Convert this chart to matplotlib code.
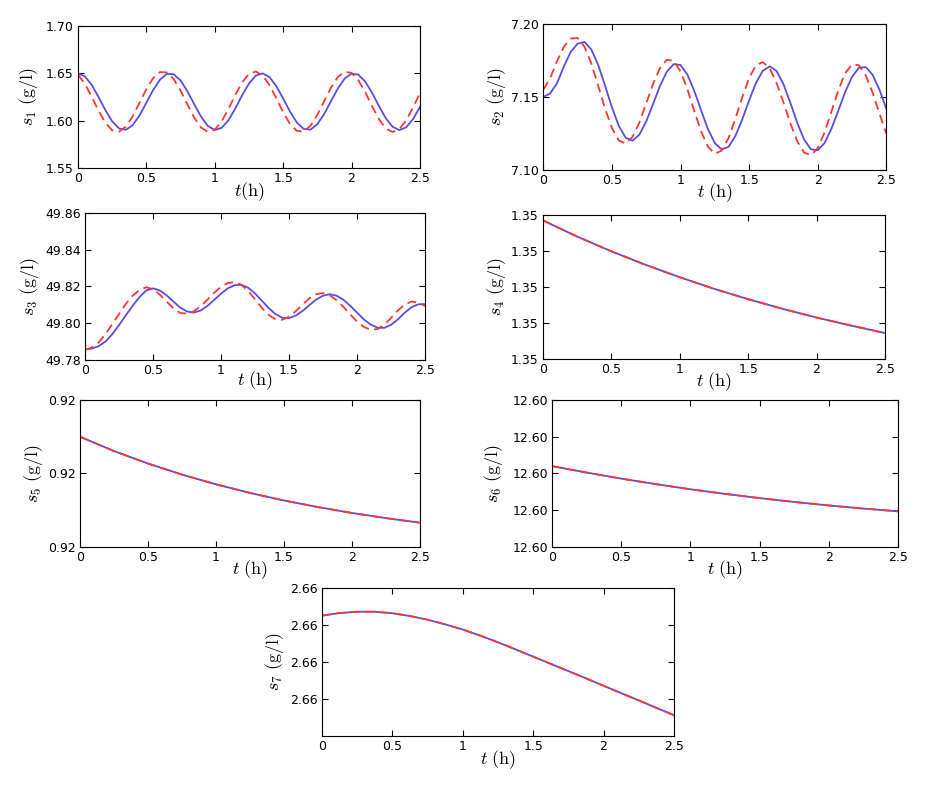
import numpy as np
import matplotlib
matplotlib.use("Agg")
import matplotlib.pyplot as plt
from matplotlib.ticker import FormatStrFormatter

plt.rcParams['font.family'] = ['DejaVu Sans']
plt.rcParams['mathtext.fontset'] = 'cm'

# ---------------- data ----------------
t_osc = np.round(np.arange(0, 2.5001, 0.05), 3)

s1_model = [1.6500, 1.6468, 1.6378, 1.6250, 1.6112, 1.5992, 1.5917, 1.5903, 1.5952, 1.6055,
            1.6189, 1.6325, 1.6434, 1.6494, 1.6490, 1.6424, 1.6310, 1.6172, 1.6041, 1.5943,
            1.5901, 1.5923, 1.6004, 1.6128, 1.6267, 1.6391, 1.6475, 1.6499, 1.6460, 1.6364,
            1.6233, 1.6095, 1.5980, 1.5912, 1.5905, 1.5962, 1.6070, 1.6206, 1.6340, 1.6445,
            1.6497, 1.6485, 1.6412, 1.6294, 1.6155, 1.6026, 1.5935, 1.5900, 1.5930, 1.6017, 1.6144]
s1_est = [1.6486, 1.6390, 1.6253, 1.6106, 1.5978, 1.5898, 1.5883, 1.5936, 1.6045, 1.6188,
          1.6333, 1.6450, 1.6513, 1.6509, 1.6438, 1.6317, 1.6170, 1.6030, 1.5926, 1.5881,
          1.5904, 1.5991, 1.6123, 1.6271, 1.6404, 1.6493, 1.6519, 1.6477, 1.6375, 1.6236,
          1.6088, 1.5965, 1.5892, 1.5885, 1.5946, 1.6061, 1.6206, 1.6350, 1.6461, 1.6516,
          1.6504, 1.6426, 1.6300, 1.6152, 1.6015, 1.5917, 1.5880, 1.5912, 1.6005, 1.6140, 1.6289]

s2_model = [7.1500, 7.1525, 7.1595, 7.1710, 7.1810, 7.1865, 7.1877, 7.1825, 7.1719, 7.1577,
            7.1429, 7.1302, 7.1221, 7.1201, 7.1242, 7.1333, 7.1453, 7.1575, 7.1673, 7.1725,
            7.1719, 7.1653, 7.1542, 7.1408, 7.1280, 7.1184, 7.1141, 7.1159, 7.1233, 7.1347,
            7.1477, 7.1597, 7.1680, 7.1710, 7.1678, 7.1588, 7.1461, 7.1325, 7.1210, 7.1142,
            7.1135, 7.1185, 7.1283, 7.1407, 7.1534, 7.1638, 7.1700, 7.1705, 7.1652, 7.1549, 7.1420]
s2_est = [7.1550, 7.1630, 7.1745, 7.1845, 7.1900, 7.1904, 7.1844, 7.1728, 7.1577, 7.1420,
          7.1287, 7.1202, 7.1181, 7.1226, 7.1325, 7.1456, 7.1590, 7.1698, 7.1755, 7.1748,
          7.1675, 7.1553, 7.1405, 7.1264, 7.1159, 7.1111, 7.1133, 7.1219, 7.1351, 7.1499,
          7.1631, 7.1717, 7.1739, 7.1695, 7.1596, 7.1463, 7.1321, 7.1199, 7.1120, 7.1101,
          7.1150, 7.1258, 7.1400, 7.1546, 7.1663, 7.1724, 7.1718, 7.1648, 7.1529, 7.1386, 7.1249]

s3_model = [49.7858, 49.7862, 49.7875, 49.7900, 49.7940, 49.7990, 49.8043, 49.8095, 49.8142, 49.8178,
            49.8190, 49.8178, 49.8152, 49.8118, 49.8085, 49.8064, 49.8058, 49.8069, 49.8094, 49.8127,
            49.8161, 49.8190, 49.8207, 49.8209, 49.8193, 49.8162, 49.8123, 49.8083, 49.8050, 49.8030,
            49.8028, 49.8042, 49.8067, 49.8099, 49.8129, 49.8150, 49.8158, 49.8150, 49.8128, 49.8095,
            49.8058, 49.8021, 49.7993, 49.7976, 49.7975, 49.7991, 49.8021, 49.8057, 49.8087, 49.8103, 49.8104]
s3_est = [49.7855, 49.7868, 49.7895, 49.7940, 49.7995, 49.8050, 49.8105, 49.8150, 49.8180, 49.8196,
          49.8185, 49.8156, 49.8118, 49.8081, 49.8056, 49.8052, 49.8065, 49.8092, 49.8128, 49.8166,
          49.8198, 49.8219, 49.8224, 49.8209, 49.8175, 49.8130, 49.8084, 49.8045, 49.8022, 49.8019,
          49.8036, 49.8066, 49.8102, 49.8136, 49.8158, 49.8164, 49.8152, 49.8125, 49.8089, 49.8048,
          49.8009, 49.7980, 49.7965, 49.7968, 49.7991, 49.8029, 49.8069, 49.8102, 49.8118, 49.8113, 49.8094]

t_q = np.round(np.arange(0, 2.5001, 0.25), 3)
s4_vals = [1.350370, 1.350280, 1.350198, 1.350123, 1.350054, 1.349990,
           1.349932, 1.349879, 1.349830, 1.349786, 1.349744]
s5_vals = [0.920200, 0.920122, 0.920054, 0.919994, 0.919941, 0.919894,
           0.919853, 0.919817, 0.919785, 0.919757, 0.919732]
s6_vals = [12.600040, 12.600005, 12.599972, 12.599942, 12.599914, 12.599889,
           12.599866, 12.599845, 12.599826, 12.599809, 12.599794]

t_e = np.round(np.arange(0, 2.5001, 0.125), 4)
s7_vals = [2.660251, 2.660265, 2.660272, 2.660272, 2.660264, 2.660249, 2.660229,
           2.660204, 2.660176, 2.660143, 2.660107, 2.660069, 2.660030, 2.659991,
           2.659952, 2.659913, 2.659873, 2.659833, 2.659794, 2.659754, 2.659714]

x_ticks = [0, 0.5, 1, 1.5, 2, 2.5]
x_tick_labels = ['0', '0.5', '1', '1.5', '2', '2.5']

# ---------------- layout ----------------
BLUE = '#5a4de0'
RED = '#ff3535'

fig = plt.figure(figsize=(9.25, 7.86), dpi=100)

panels = [
    ([0.0843, 0.7863, 0.3697, 0.1807], t_osc, s1_model, s1_est,
     [1.55, 1.60, 1.65, 1.70], (1.55, 1.70), r'$s_1\ (\mathrm{g/l})$', r'$t(\mathrm{h})$', -0.165, -0.146),
    ([0.5874, 0.7837, 0.3708, 0.1858], t_osc, s2_model, s2_est,
     [7.10, 7.15, 7.20], (7.10, 7.20), r'$s_2\ (\mathrm{g/l})$', r'$t\ (\mathrm{h})$', -0.158, -0.136),
    ([0.0919, 0.5420, 0.3676, 0.1870], t_osc, s3_model, s3_est,
     [49.78, 49.80, 49.82, 49.84, 49.86], (49.78, 49.86), r'$s_3\ (\mathrm{g/l})$', r'$t\ (\mathrm{h})$', -0.138, -0.162),
    ([0.5870, 0.5433, 0.3697, 0.1832], t_q, s4_vals, s4_vals,
     [1.3496, 1.3498, 1.3500, 1.3502, 1.3504], (1.3496, 1.3504), r'$s_4\ (\mathrm{g/l})$', r'$t\ (\mathrm{h})$', -0.157, -0.135),
    ([0.0865, 0.3041, 0.3676, 0.1870], t_q, s5_vals, s5_vals,
     [0.9196, 0.9200, 0.9204], (0.9196, 0.9204), r'$s_5\ (\mathrm{g/l})$', r'$t\ (\mathrm{h})$', -0.156, -0.138),
    ([0.5968, 0.3041, 0.3741, 0.1870], t_q, s6_vals, s6_vals,
     [12.5996, 12.5998, 12.6000, 12.6002, 12.6004], (12.5996, 12.6004), r'$s_6\ (\mathrm{g/l})$', r'$t\ (\mathrm{h})$', -0.156, -0.17),
    ([0.3481, 0.0636, 0.3805, 0.1883], t_e, s7_vals, s7_vals,
     [2.6598, 2.6600, 2.6602, 2.6604], (2.659602, 2.6604), r'$s_7\ (\mathrm{g/l})$', r'$t\ (\mathrm{h})$', -0.16, -0.134),
]

for rect, t, model, est, yt, yl, ylab, xlab, xly, ylx in panels:
    ax = fig.add_axes(rect)
    ax.plot(t, model, color=BLUE, lw=1.3)
    ax.plot(t, est, color=RED, lw=1.3, ls=(0, (5, 3)))
    ax.set_xlim(0, 2.5)
    ax.set_ylim(*yl)
    ax.set_xticks(x_ticks)
    ax.set_xticklabels(x_tick_labels)
    ax.set_yticks(yt)
    ax.yaxis.set_major_formatter(FormatStrFormatter('%.2f'))
    ax.tick_params(direction='in', top=True, right=True, length=4, width=0.8,
                   labelsize=9, pad=3, colors='black')
    for sp in ax.spines.values():
        sp.set_linewidth(0.8)
    ax.set_xlabel(xlab, fontsize=13, va='center')
    ax.xaxis.set_label_coords(0.5, xly)
    ax.set_ylabel(ylab, fontsize=13, va='center')
    ax.yaxis.set_label_coords(ylx, 0.5)

fig.savefig('out.png', dpi=100)
